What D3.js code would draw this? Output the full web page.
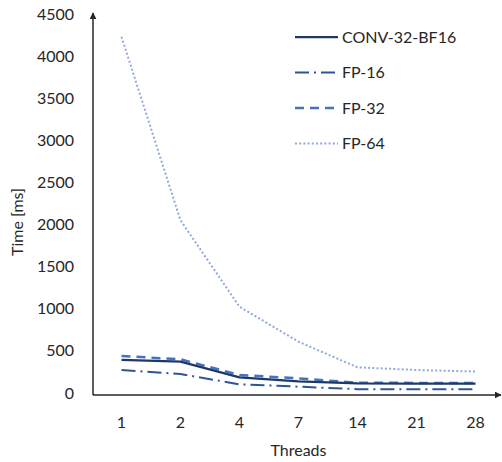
<!DOCTYPE html>
<html>
<head>
<meta charset="utf-8">
<script src="https://cdn.jsdelivr.net/npm/d3@7"></script>
<style>
  body { margin: 0; background: #fff; }
  text { font-family: Lato, "Open Sans", sans-serif; fill: #262626; }
</style>
</head>
<body>
<div id="chart"></div>
<script>
/* Data */
const threads = ["1", "2", "4", "7", "14", "21", "28"];
const conv32bf16 = [392, 372, 186, 139, 115, 110, 110];
const fp16 = [273, 225, 103, 75, 46, 44, 44];
const fp32 = [439, 400, 214, 174, 122, 120, 118];
const fp64 = [4230, 2050, 1024, 609, 305, 273, 255];
const yTicks = [0, 500, 1000, 1500, 2000, 2500, 3000, 3500, 4000, 4500];

const width = 502, height = 462;
const margin = { top: 14, right: 0, bottom: 67, left: 93 };

const series = [
  { name: "CONV-32-BF16", values: conv32bf16, color: "#1f3864", width: 2.25, dash: null },
  { name: "FP-16", values: fp16, color: "#2f5597", width: 2, dash: "14,5,2,5" },
  { name: "FP-32", values: fp32, color: "#4472c4", width: 2.5, dash: "9,6" },
  { name: "FP-64", values: fp64, color: "#8faadc", width: 2, dash: "2,2.2" }
];

const svg = d3.select("#chart").append("svg")
  .attr("width", width).attr("height", height);

/* Scales */
const x = d3.scalePoint()
  .domain(threads)
  .range([92, 505])
  .padding(0.5);

const y = d3.scaleLinear()
  .domain([0, 4500])
  .range([393, 14]);

/* Arrow marker */
svg.append("defs").append("marker")
  .attr("id", "arrow")
  .attr("viewBox", "0 0 10 10")
  .attr("refX", 9).attr("refY", 5)
  .attr("markerWidth", 7).attr("markerHeight", 7)
  .attr("markerUnits", "userSpaceOnUse")
  .attr("orient", "auto")
  .append("path")
  .attr("d", "M0,0 L10,5 L0,10 Z")
  .attr("fill", "#262626");

/* Axes */
const x0 = margin.left, yBase = 395;
svg.append("line")
  .attr("x1", x0).attr("y1", yBase)
  .attr("x2", 501).attr("y2", yBase)
  .attr("stroke", "#262626").attr("stroke-width", 1.5)
  .attr("marker-end", "url(#arrow)");
svg.append("line")
  .attr("x1", x0).attr("y1", yBase)
  .attr("x2", x0).attr("y2", 13)
  .attr("stroke", "#262626").attr("stroke-width", 1.5)
  .attr("marker-end", "url(#arrow)");

// y tick labels
svg.selectAll(".ytick")
  .data(yTicks)
  .enter().append("text")
  .attr("class", "ytick")
  .attr("x", 74)
  .attr("y", d => y(d))
  .attr("dy", "0.35em")
  .attr("text-anchor", "end")
  .style("font-size", "16px")
  .text(d => d);

// x tick labels
svg.selectAll(".xtick")
  .data(threads)
  .enter().append("text")
  .attr("class", "xtick")
  .attr("x", d => x(d))
  .attr("y", 422)
  .attr("dy", "0.35em")
  .attr("text-anchor", "middle")
  .style("font-size", "16px")
  .text(d => d);

// axis labels
svg.append("text")
  .attr("x", x(threads[3]))
  .attr("y", 450)
  .attr("dy", "0.35em")
  .attr("text-anchor", "middle")
  .style("font-size", "16px")
  .text("Threads");

svg.append("text")
  .attr("transform", `translate(17,222) rotate(-90)`)
  .attr("dy", "0.35em")
  .attr("text-anchor", "middle")
  .style("font-size", "16px")
  .text("Time [ms]");

/* Lines */
const line = d3.line()
  .x((d, i) => x(threads[i]))
  .y(d => y(d))
  .curve(d3.curveLinear);

// draw FP-64 first, dark solid last
[3, 2, 1, 0].forEach(i => {
  const s = series[i];
  svg.append("path")
    .datum(s.values)
    .attr("fill", "none")
    .attr("stroke", s.color)
    .attr("stroke-width", s.width)
    .attr("stroke-dasharray", s.dash)
    .attr("stroke-linejoin", "round")
    .attr("d", line);
});

/* Legend */
const legend = svg.append("g");
series.forEach((s, i) => {
  const ly = 37 + i * 35.5;
  legend.append("line")
    .attr("x1", 295).attr("x2", 338)
    .attr("y1", ly).attr("y2", ly)
    .attr("stroke", s.color)
    .attr("stroke-width", s.width)
    .attr("stroke-dasharray", s.dash);
  legend.append("text")
    .attr("x", 342)
    .attr("y", ly)
    .attr("dy", "0.35em")
    .style("font-size", "16px")
    .text(s.name);
});
</script>
</body>
</html>
